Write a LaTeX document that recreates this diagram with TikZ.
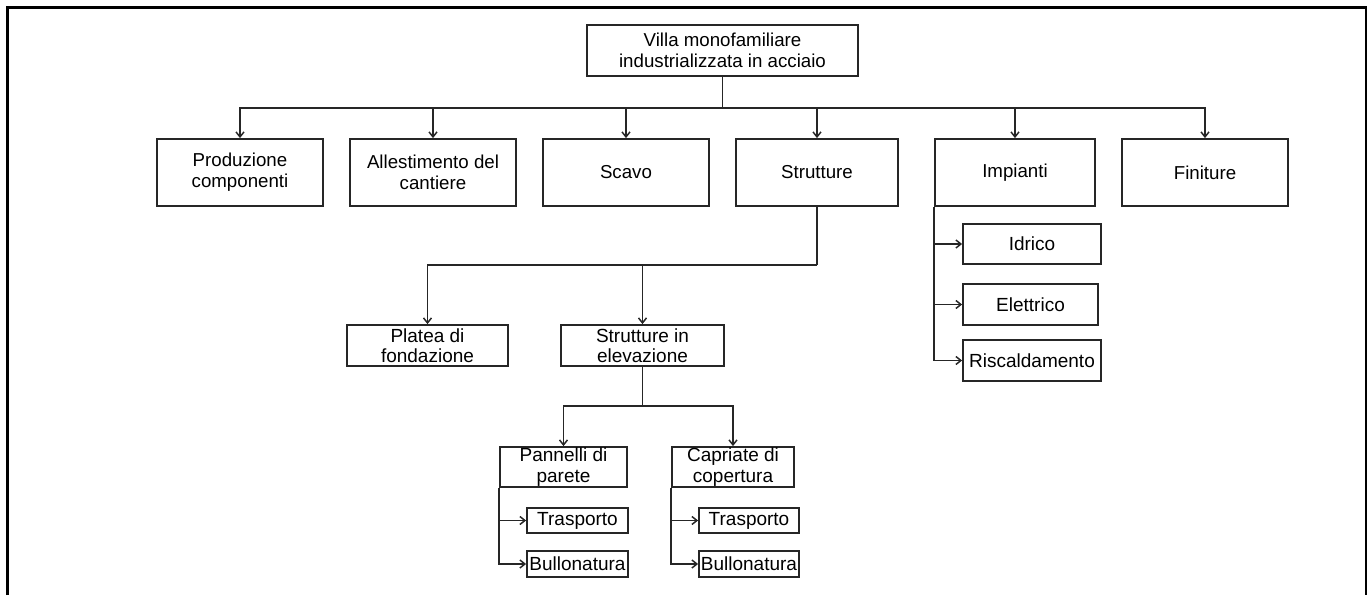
\documentclass[tikz,border=0pt]{standalone}
\usepackage{fontspec}
\setmainfont{Liberation Sans}
\usetikzlibrary{arrows.meta}
\begin{document}
\begin{tikzpicture}[x=1pt,y=-1pt,
  box/.style={draw=black!85,line width=1.8pt,rectangle,inner sep=0pt,align=center,
    font=\fontsize{18.7}{21}\selectfont},
  small/.style={box,font=\fontsize{19}{20.5}\selectfont},
  conn/.style={draw=black!85,line width=1.7pt},
  arr/.style={conn,-{Straight Barb[length=5pt,width=8pt,line width=1.5pt]}}]
\useasboundingbox (0,0) rectangle (1368,595);
% outer frame, open at the bottom
\draw[line width=2.8pt,black] (7.5,595) -- (7.5,7.5) -- (1366,7.5) -- (1366,595);

% root
\node[box,minimum width=271pt,minimum height=51pt] (root) at (722.5,50.5)
  {Villa monofamiliare\\industrializzata in acciaio};

% first level
\node[box,minimum width=166pt,minimum height=67pt] (prod) at (240,172.5) {Produzione\\componenti};
\node[box,minimum width=166pt,minimum height=67pt] (alle) at (433,172.5) {Allestimento del\\cantiere};
\node[box,minimum width=166pt,minimum height=67pt] (scavo) at (626,172.5) {Scavo};
\node[box,minimum width=162pt,minimum height=67pt] (strut) at (817,172.5) {Strutture};
\node[box,minimum width=160pt,minimum height=67pt] (imp) at (1015,172.5) {Impianti};
\node[box,minimum width=166pt,minimum height=67pt] (fin) at (1205,172.5) {Finiture};

% Strutture branch
\node[small,minimum width=161pt,minimum height=41pt] (plat) at (427.5,345.5) {Platea di\\fondazione};
\node[small,minimum width=163pt,minimum height=41pt] (elev) at (642.5,345.5) {Strutture in\\elevazione};
\node[small,minimum width=127pt,minimum height=40pt] (pann) at (563.5,467) {Pannelli di\\parete};
\node[small,minimum width=122pt,minimum height=40pt] (capr) at (733,467) {Capriate di\\copertura};
\node[small,minimum width=101pt,minimum height=25pt] (trasA) at (577.5,520.5) {Trasporto};
\node[small,minimum width=101pt,minimum height=26pt] (bullA) at (577.5,564) {Bullonatura};
\node[small,minimum width=100pt,minimum height=25pt] (trasB) at (749,520.5) {Trasporto};
\node[small,minimum width=100pt,minimum height=26pt] (bullB) at (749,564) {Bullonatura};

% Impianti branch
\node[small,minimum width=138pt,minimum height=40pt] (idr) at (1032,244) {Idrico};
\node[small,minimum width=135pt,minimum height=41pt] (ele) at (1030.5,304.5) {Elettrico};
\node[small,minimum width=138pt,minimum height=41pt] (risc) at (1032,360.5) {Riscaldamento};

% junction points
\coordinate (bar) at (722.5,108);
\coordinate (barS) at (817,265);
\coordinate (barE) at (642.5,406);

% root to first level
\draw[conn] (root.south) -- (bar);
\foreach \n in {prod,alle,scavo,strut,imp,fin}
  \draw[arr] (bar) -| (\n.north);

% Strutture to its parts
\draw[conn] (strut.south) -- (barS);
\draw[arr] (barS) -| (plat.north);
\draw[arr] (barS) -| (elev.north);

% Strutture in elevazione to its parts
\draw[conn] (elev.south) -- (barE);
\draw[arr] (barE) -| (pann.north);
\draw[arr] (barE) -| (capr.north);

% side feeders
\draw[arr] (pann.south west) |- (trasA.west);
\draw[arr] (pann.south west) |- (bullA.west);
\draw[arr] (capr.south west) |- (trasB.west);
\draw[arr] (capr.south west) |- (bullB.west);
\draw[arr] (imp.south west) |- (idr.west);
\draw[arr] (imp.south west) |- (ele.west);
\draw[arr] (imp.south west) |- (risc.west);
\end{tikzpicture}
\end{document}
